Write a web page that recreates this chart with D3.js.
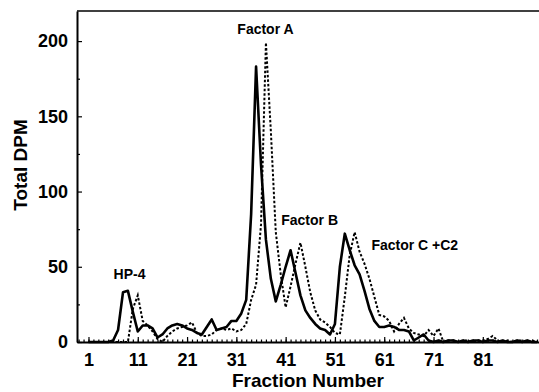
<!DOCTYPE html>
<html>
<head>
<meta charset="utf-8">
<script src="https://cdn.jsdelivr.net/npm/d3@7"></script>
<style>
  body { margin: 0; background: #fff; }
  text { font-family: "Liberation Sans", Arial, sans-serif; font-weight: bold; fill: #000; }
</style>
</head>
<body>
<div id="chart"></div>
<script>
// fraction numbers 1..92
var fractions = d3.range(1, 93);

// solid trace (Total DPM)
var solidDPM = [
  0, 0, 0, 0, 0, 1, 8, 33, 34, 20,
  7, 11, 11, 9, 3, 5, 9, 11, 12, 11,
  9, 8, 6, 5, 10, 15, 8, 9, 10, 14,
  14, 19, 28, 85, 183, 118, 68, 42, 27, 38,
  50, 61, 46, 31, 21, 16, 12, 9, 8, 5,
  12, 50, 72, 61, 51, 45, 34, 22, 14, 10,
  10, 11, 10, 8, 8, 7, 1, 3, 5, 1,
  0, 1, 0, 1, 1, 0, 1, 0, 1, 1,
  0, 1, 1, 0, 1, 0, 0, 1, 0, 1,
  0, 0
];

// dotted trace (Total DPM)
var dottedDPM = [
  0, 0, 0, 0, 0, 0, 0, 0, 0, 22,
  31, 14, 11, 7, 2, 0, 4, 7, 9, 10,
  11, 13, 6, 4, 4, 5, 8, 9, 8, 9,
  7, 8, 12, 28, 38, 78, 199, 140, 73, 45,
  23, 37, 52, 66, 50, 33, 21, 15, 13, 10,
  6, 5, 30, 58, 73, 60, 52, 42, 30, 18,
  17, 14, 7, 12, 16, 9, 6, 5, 4, 8,
  4, 9, 0, 1, 1, 0, 1, 1, 0, 1,
  1, 2, 4, 1, 0, 1, 0, 1, 1, 0,
  1, 0
];

var xTicks = [1, 11, 21, 31, 41, 51, 61, 71, 81];
var yTicks = [0, 50, 100, 150, 200];
var yMinor = [25, 75, 125, 175];

// peak names and where they sit (fraction, DPM)
var peakNames = ["HP-4", "Factor A", "Factor B", "Factor C +C2"];
var peakAt = [[6.1, 42], [31.2, 205], [40.1, 78], [58.4, 61]];

var W = 539, H = 392;
var margin = { top: 11, right: 0, bottom: 50, left: 77 };

var x = d3.scaleLinear()
    .domain([-1.33, 92.4])
    .range([margin.left, W - margin.right]);

var y = d3.scaleLinear()
    .domain([0, 220])
    .range([H - margin.bottom, margin.top]);

var svg = d3.select('#chart').append('svg')
    .attr("width", W)
    .attr("height", H);

svg.append("rect").attr("width", W).attr("height", H).attr("fill", "#fff");

// top frame line
svg.append("line")
    .attr("x1", margin.left).attr("x2", W)
    .attr("y1", y(220)).attr("y2", y(220))
    .attr("stroke", "#000").attr("stroke-width", 1.5);

// y axis
var yAxis = svg.append("g")
    .attr("transform", "translate(" + margin.left + ",0)")
    .call(d3.axisLeft(y).tickValues(yTicks).tickSizeInner(-5).tickSizeOuter(0).tickPadding(9));
yAxis.selectAll("text").style("font-size", "18px").style("font-family", "Liberation Sans, Arial, sans-serif").style("font-weight", "bold");

svg.append("g")
    .attr("transform", "translate(" + margin.left + ",0)")
    .call(d3.axisLeft(y).tickValues(yMinor).tickSize(-3).tickFormat(""))
    .select(".domain").remove();

// x axis
var xAxis = svg.append("g")
    .attr("transform", "translate(0," + y(0) + ")")
    .call(d3.axisBottom(x).tickValues(xTicks).tickSizeInner(-5).tickSizeOuter(0).tickPadding(11));
xAxis.selectAll("text").style("font-size", "18px").style("font-family", "Liberation Sans, Arial, sans-serif").style("font-weight", "bold");

svg.append("g")
    .attr("transform", "translate(0," + y(0) + ")")
    .call(d3.axisBottom(x).tickValues(d3.range(-1, 93)).tickSize(-2.5).tickFormat(""))
    .select(".domain").remove();

svg.selectAll(".domain").attr("stroke-width", 2);
svg.selectAll(".tick line").attr("stroke-width", 1.2);

// traces
var line = d3.line()
    .x(function(d) { return x(d[0]); })
    .y(function(d) { return y(d[1]); });

svg.append("path")
    .datum(fractions.map(function(f, i) { return [f, dottedDPM[i]]; }))
    .attr("fill", "none")
    .attr("stroke", "#000")
    .attr("stroke-width", 2)
    .attr("stroke-dasharray", "2.5,2")
    .attr("d", line);

svg.append("path")
    .datum(fractions.map(function(f, i) { return [f, solidDPM[i]]; }))
    .attr("fill", "none")
    .attr("stroke", "#000")
    .attr("stroke-width", 2.6)
    .attr("stroke-linejoin", "round")
    .attr("d", line);

// peak labels
svg.selectAll(".peak")
    .data(peakNames)
    .enter().append("text")
    .attr("class", "peak")
    .attr("x", function(d, i) { return x(peakAt[i][0]); })
    .attr("y", function(d, i) { return y(peakAt[i][1]); })
    .style("font-size", "14px")
    .text(function(d) { return d; });

// axis titles
svg.append("text")
    .attr("x", (margin.left + W) / 2)
    .attr("y", 387)
    .attr("text-anchor", "middle")
    .style("font-size", "19px")
    .text("Fraction Number");

svg.append("text")
    .attr("transform", "translate(27," + 165 + ") rotate(-90)")
    .attr("text-anchor", "middle")
    .style("font-size", "19px")
    .text("Total DPM");
</script>
</body>
</html>
